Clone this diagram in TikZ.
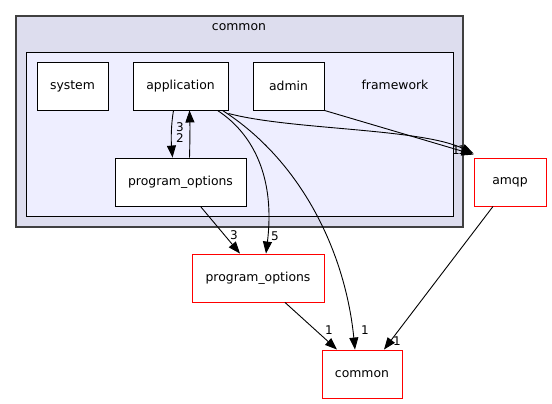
\documentclass[tikz,border=0pt]{standalone}
\usepackage{fontspec}
\setmainfont{DejaVu Sans}
\usetikzlibrary{arrows.meta}
\definecolor{outerfill}{HTML}{DDDDEE}
\definecolor{innerfill}{HTML}{EEEEFF}
\definecolor{clusterline}{HTML}{404040}
\begin{document}
\begin{tikzpicture}[x=1pt,y=-1pt,line width=0.9pt,
  box/.style={draw=black, fill=white, inner sep=0pt, font=\fontsize{12.4}{14}\selectfont},
  redbox/.style={draw=red, fill=white, inner sep=0pt, font=\fontsize{12.4}{14}\selectfont},
  edge/.style={draw=black, -{Triangle[length=12pt,width=9pt]}},
  elabel/.style={font=\fontsize{12}{13}\selectfont, inner sep=0pt}]
\useasboundingbox (0,0) rectangle (552,404);
% clusters
\node[draw=clusterline, fill=outerfill, minimum width=447pt, minimum height=211pt, inner sep=0pt, line width=1.1pt] (outer) at (239.5,121.5) {};
\node[font=\fontsize{12.4}{14}\selectfont] (outerlabel) at (239,27) {common};
\node[draw=black, fill=innerfill, minimum width=427pt, minimum height=164pt, inner sep=0pt] (inner) at (239.5,134) {};
\node[font=\fontsize{12.4}{14}\selectfont] (innerlabel) at (395,85) {framework};
% nodes
\node[box, minimum width=71pt, minimum height=48pt] (system) at (72.5,86) {system};
\node[box, minimum width=95pt, minimum height=48pt] (application) at (180.5,86) {application};
\node[box, minimum width=71pt, minimum height=48pt] (admin) at (288.5,86) {admin};
\node[box, minimum width=131pt, minimum height=48pt] (po) at (180.5,182) {program\_options};
\node[redbox, minimum width=72pt, minimum height=48pt] (amqp) at (510,182) {amqp};
\node[redbox, minimum width=132pt, minimum height=48pt] (po2) at (258,278) {program\_options};
\node[redbox, minimum width=80pt, minimum height=48pt] (common) at (362,374) {common};
% edges
\draw[edge] ([xshift=-7pt]application.south) .. controls (171,125) and (171,140) .. ([xshift=-8pt]po.north);
\node[elabel] (l3a) at (180,127) {3};
\node[elabel] (l2a) at (180,138.5) {2};
\draw[edge] ([xshift=9pt]po.north) .. controls (190,140) and (190,125) .. ([xshift=9pt]application.south);
\draw[edge] ([yshift=-3pt]application.south east) .. controls (290,130) and (420,128) .. ([yshift=4pt]amqp.north west);
\draw[edge] (admin.south east) -- ([yshift=3pt]amqp.north west);
\node[elabel] (l1a) at (456,150) {1};
\node[elabel] (l1b) at (462,150) {1};
\draw[edge] ([xshift=37pt]application.south) .. controls (255,135) and (275,180) .. ([xshift=8pt]po2.north);
\node[elabel] (l5) at (275,236) {5};
\draw[edge] ([xshift=42pt]application.south) .. controls (300,160) and (345,250) .. ([xshift=-7pt]common.north);
\node[elabel] (l1c) at (365,330) {1};
\draw[edge] ([xshift=20pt]po.south) -- ([xshift=-18pt]po2.north);
\node[elabel] (l3b) at (234,235) {3};
\draw[edge] ([xshift=27pt]po2.south) -- ([xshift=-25pt]common.north);
\node[elabel] (l1d) at (329,330) {1};
\draw[edge] ([xshift=-17pt]amqp.south) -- ([xshift=22pt]common.north);
\node[elabel] (l1e) at (397,341) {1};
\end{tikzpicture}
\end{document}
